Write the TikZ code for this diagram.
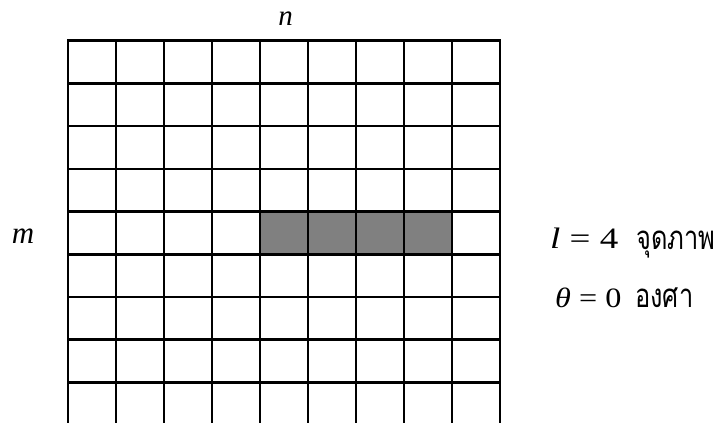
\documentclass[tikz,border=0pt]{standalone}
\usepackage{fontspec}
\setmainfont{Liberation Serif}
\newfontfamily\thaifont[Script=Thai]{Loma}
\usepackage{graphicx}
\begin{document}
\begin{tikzpicture}[x=1pt,y=-1pt,
  gridline/.style={line width=2.6pt, line cap=rect},
  lbl/.style={inner sep=0pt, anchor=base west},
  mathlbl/.style={inner sep=0pt, anchor=base, font=\fontsize{29}{34}\selectfont\itshape},
  thailbl/.style={inner sep=0pt, anchor=base west, font=\fontsize{33}{38}\thaifont}]
\useasboundingbox (0,0) rectangle (721,423);
\definecolor{cellgray}{HTML}{808080}
% shaded cells
\fill[cellgray] (260,211.5) rectangle (452,254.2);
% vertical grid lines
\foreach \i in {0,...,9} {
  \draw[gridline] (68+48*\i,40.7) -- (68+48*\i,430);
}
% horizontal grid lines
\foreach \j in {0,...,8} {
  \draw[gridline] (68,40.7+42.7*\j) -- (500,40.7+42.7*\j);
}
\node[mathlbl] (n) at (285.5,25) {n};
\node[mathlbl, font=\fontsize{31}{36}\selectfont\itshape] (m) at (23,243) {m};
\node[lbl] (len) at (550,248) {\fontsize{29.6}{34}\selectfont\scalebox{1.25}[1]{\itshape l\upshape{} = 4}};
\node[thailbl] (lenunit) at (636,249) {\scalebox{0.77}[1]{จุดภาพ}};
\node[lbl] (ang) at (555,307) {\fontsize{28}{32}\selectfont\scalebox{1.15}[1]{\itshape θ\upshape{} = 0}};
\node[thailbl] (angunit) at (635,307) {\scalebox{0.77}[1]{องศา}};
\end{tikzpicture}
\end{document}
